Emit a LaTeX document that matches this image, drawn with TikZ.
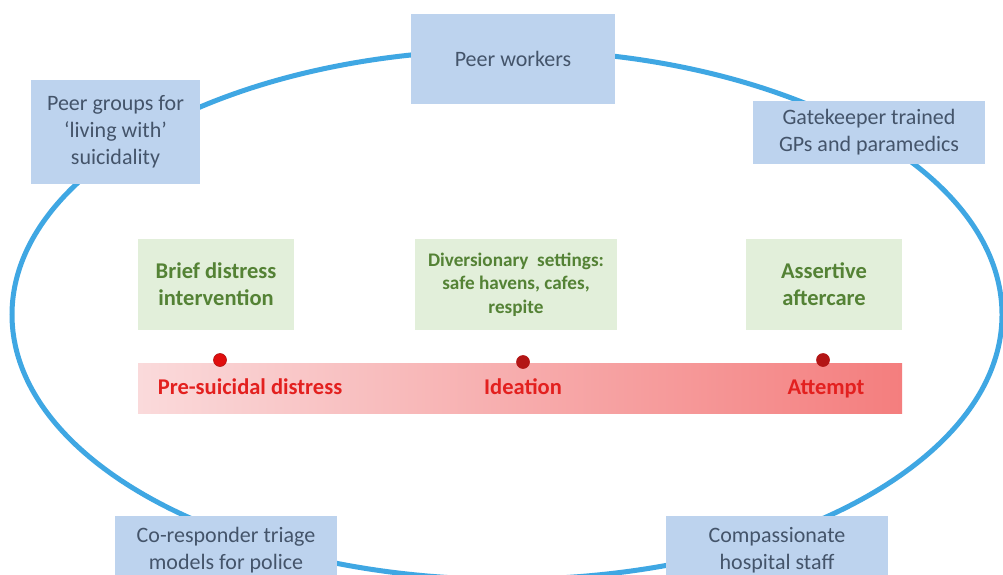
\documentclass[tikz,border=0pt]{standalone}
\usepackage{fontspec}
\setmainfont{Carlito}
\definecolor{ring}{HTML}{3FA7E3}
\definecolor{bluebox}{HTML}{BDD3EE}
\definecolor{bluetext}{HTML}{44546A}
\definecolor{greenbox}{HTML}{E2EFDA}
\definecolor{greentext}{HTML}{548235}
\definecolor{redtext}{HTML}{E3201F}
\definecolor{barleft}{HTML}{FADADB}
\definecolor{barright}{HTML}{F47E7E}
\definecolor{dotred}{HTML}{E00E0E}
\definecolor{dotdark}{HTML}{B31515}
\begin{document}
\begin{tikzpicture}[x=1pt,y=-1pt,
  bbox/.style={fill=bluebox, text=bluetext, align=center, inner sep=0pt,
    font=\fontsize{22}{27}\selectfont},
  gbox/.style={fill=greenbox, text=greentext, align=center, inner sep=0pt,
    font=\bfseries\fontsize{22.5}{27}\selectfont, minimum height=91pt},
  stagetext/.style={text=redtext, inner sep=0pt, anchor=base, font=\bfseries\fontsize{22.5}{26}\selectfont},
  stagedot/.style={circle, inner sep=0pt, minimum size=13pt, fill=#1, draw=dotdark, line width=0.6pt}
]
\useasboundingbox (0,0) rectangle (1003,575);
\clip (0,0) rectangle (1003,575);
\fill[white] (0,0) rectangle (1003,575);
\draw[ring, line width=5pt] (507,314.7) ellipse [x radius=495, y radius=264.7];

\node[bbox, minimum width=204pt, minimum height=90pt] (peer) at (513,59) {Peer workers};
\node[bbox, minimum width=169pt, minimum height=104pt] (groups) at (115.5,132) {Peer groups for\\`living with'\\suicidality};
\node[bbox, minimum width=232pt, minimum height=63pt] (gate) at (869,132.5) {Gatekeeper trained\\GPs and paramedics};
\node[bbox, minimum width=222pt, minimum height=68pt] (corr) at (226,550) {Co-responder triage\\models for police};
\node[bbox, minimum width=222pt, minimum height=68pt] (hosp) at (777,550) {Compassionate\\hospital staff};

\node[gbox, minimum width=156pt] (brief) at (216,284.5) {Brief distress\\intervention};
\node[gbox, minimum width=202pt, font=\bfseries\fontsize{19.2}{23.5}\selectfont] (div) at (516,284.5) {Diversionary\ \ settings:\\safe havens, cafes,\\respite};
\node[gbox, minimum width=156pt] (assert) at (824,284.5) {Assertive\\aftercare};

\node[minimum width=764pt, minimum height=50pt, inner sep=0pt, left color=barleft, right color=barright] (bar) at (520,388) {};
\node[stagetext] (pre) at (250,394) {Pre-suicidal distress};
\node[stagetext] (idea) at (523,394) {Ideation};
\node[stagetext] (att) at (826,394) {Attempt};

\node[stagedot=dotred] (d1) at (220,360) {};
\node[stagedot=dotdark] (d2) at (523,362) {};
\node[stagedot=dotdark] (d3) at (823,360) {};
\end{tikzpicture}
\end{document}
